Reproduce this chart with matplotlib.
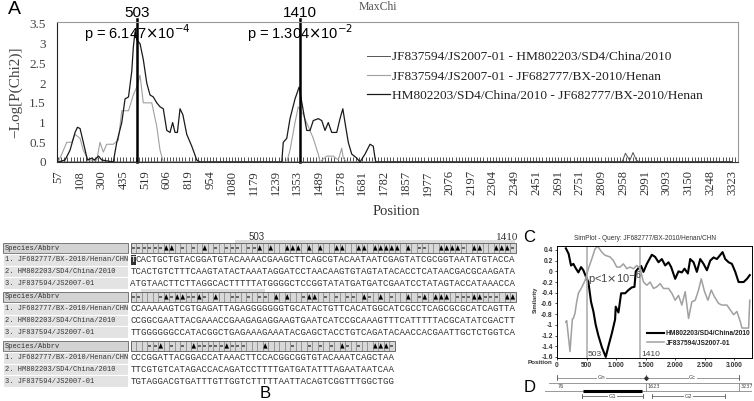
import numpy as np
import matplotlib.pyplot as plt
from matplotlib.patches import Rectangle, Polygon
from matplotlib.ticker import MultipleLocator

W, H = 754, 401
SERIF = 'Liberation Serif'
SANS = 'Liberation Sans'
MONO = 'Liberation Mono'

# ---------------- A: MaxChi ----------------
site_labels = ['57', '108', '300', '435', '519', '606', '819', '954', '1080', '1179', '1239',
               '1353', '1489', '1578', '1681', '1782', '1857', '1977', '2076', '2197', '2304',
               '2349', '2451', '2691', '2751', '2809', '2958', '2991', '3093', '3150', '3248',
               '3323']
pair_labels = ['JF837594/JS2007-01 - HM802203/SD4/China/2010',
               'JF837594/JS2007-01 - JF682777/BX-2010/Henan',
               'HM802203/SD4/China/2010 - JF682777/BX-2010/Henan']

# x in informative-site index units, y = -log P
pair1_x = [0, 25.95, 26.1, 26.3, 26.45, 26.6, 26.75, 31]
pair1_y = [0, 0, 0.22, 0.04, 0.24, 0.05, 0, 0]

pair2_x = [0, 0.17, 0.4, 0.63, 0.78, 1.01, 1.16, 1.39, 1.78, 1.93, 2.08, 2.24, 2.54, 2.77,
           2.93, 3.24, 3.46, 3.62, 3.77, 3.92, 4.31, 4.54, 4.69, 4.84, 10.52, 10.67, 10.9,
           11.05, 11.28, 11.51, 11.74, 11.97, 12.05, 12.36, 12.66, 12.89, 13.05, 13.12, 13.28, 31]
pair2_y = [0, 0.2, 0.5, 0.5, 0.7, 0.6, 0.3, 0.05, 0.05, 0.5, 0.25, 0.45, 0.45, 0.55,
           1.3, 1.3, 1.7, 1.9, 2.2, 1.5, 1.5, 0.9, 0.3, 0, 0, 0.3, 1.0,
           1.4, 1.2, 0.9, 0.6, 0.2, 0, 0.15, 0.15, 0.05, 0.35, 0.1, 0, 0]

pair3_x = [0, 0.32, 0.55, 0.78, 0.89, 1.01, 1.16, 1.35, 1.55, 1.67, 1.86, 2.01, 2.54, 2.70,
           2.93, 3.08, 3.24, 3.39, 3.46, 3.54, 3.62, 3.77, 3.92, 4.08, 4.23, 4.38, 4.54, 4.69,
           4.84, 5.0, 5.15, 5.27, 5.38, 5.49, 5.61, 5.74, 5.92, 6.15, 6.38, 6.53, 10.29, 10.36,
           10.52, 10.67, 10.9, 11.09, 11.28, 11.44, 11.59, 11.74, 11.97, 12.13, 12.28, 12.43,
           12.59, 12.82, 12.97, 13.1, 13.2, 13.35, 13.51, 13.74, 13.89, 14.12, 14.35, 14.5,
           14.58, 14.62, 31]
pair3_y = [0, 0.05, 0.3, 0.75, 0.88, 0.85, 0.5, 0.05, 0.1, 0.05, 0.15, 0.05, 0, 0.5,
           1.0, 1.6, 1.65, 2.3, 2.9, 3.3, 3.1, 3.0, 2.6, 2.0, 1.7, 1.65, 1.5, 1.4,
           1.35, 0.8, 0.75, 1.0, 0.75, 0.75, 1.35, 1.2, 0.7, 0.4, 0.05, 0, 0, 0.5,
           0.6, 1.1, 1.6, 1.9, 1.3, 0.8, 0.8, 1.05, 1.1, 1.05, 0.8, 1.0,
           0.75, 0.75, 1.1, 1.35, 1.0, 0.5, 0.2, 0.1, 0, 0.2, 0.45, 0.4,
           0.1, 0, 0]

breakpoints = ['503', '1410']
breakpoint_idx = [3.62, 11.12]
p_texts = [r'p = 6.147$\times$10$^{-4}$', r'p = 1.304$\times$10$^{-2}$']

# ---------------- B: alignment ----------------
names = ['1. JF682777/BX-2010/Henan/CHN', '2. HM802203/SD4/China/2010', '3. JF837594/JS2007-01']
seq_blocks = [
    ['TCACTGCTGTACGGATGTACAAAACGAAGCTTCAGCGTACAATAATCGAGTATCGCGGTAATATGTACCA',
     'TCACTGTCTTTCAAGTATACTAAATAGGATCCTAACAAGTGTAGTATACACCTCATAACGACGCAAGATA',
     'ATGTAACTTCTTAGGCACTTTTTATGGGGCTCCGGTATATGATGATCGAATCCTATAGTACCATAAACCA'],
    ['CCAAAAAGTCGTGAGATTAGAGGGGGGGTGCATACTGTTCACATGGCATCGCCTCAGCGCGCATCAGTTA',
     'CCGGCGAATTACGAAACCGAAGAGAGGAAGTGAATCATCCGCAAAGTTTCATTTTTACGCATATCGACTT',
     'TTGGGGGGCCATACGGCTGAGAAAGAAATACGAGCTACCTGTCAGATACAACCACGAATTGCTCTGGTCA'],
    ['CCCGGATTACGGACCATAAACTTCCACGGCGGTGTACAAATCAGCTAA',
     'TTCGTGTCATAGACCACAGATCCTTTTGATGATATTTAGAATAATCAA',
     'TGTAGGACGTGATTTGTTGGTCTTTTTAATTACAGTCGGTTTGGCTGG'],
]
# s = square, t = triangle, . = empty site cell
site_marks = [
    'sssssstt.s.s.t.s.sss.sst.t..ttt.t.t..tt..tt.ttttt.t.ss..tttts.tt..ttts',
    'ss...ststtssts.t..ss.s.ss.t.t..stt.s.s.ss.ts.t.s..t.st.ttt.sssttsss.tt',
    '...sst.s.s.tssssstsss...t....s..s.s.s.ts.s..ttts',
]

# ---------------- C: SimPlot ----------------
sim_pos_hm = [150, 196, 237, 277, 316, 362, 407, 446, 490, 531, 576, 616, 655, 700, 760, 825,
              870, 930, 983, 994, 1040, 1085, 1153, 1209, 1266, 1311, 1333, 1379, 1424, 1463,
              1520, 1605, 1661, 1718, 1774, 1831, 1887, 1932, 2000, 2056, 2113, 2158, 2215,
              2254, 2311, 2367, 2424, 2480, 2537, 2593, 2650, 2706, 2802, 2847, 2904, 2960,
              3017, 3073, 3158, 3215, 3262]
sim_hm = [0.43, 0.33, 0.11, 0.14, 0.06, -0.02, 0.08, 0.02, -0.1, -0.2, -0.57, -0.75, -1.0,
          -1.2, -1.42, -1.6, -1.4, -1.15, -0.9, -0.66, -0.77, -0.41, -0.41, -0.35, -0.3, -0.29,
          0.0, 0.06, 0.1, -0.01, 0.14, 0.31, 0.27, 0.17, 0.23, 0.11, 0.17, 0.08, -0.14, 0.0,
          -0.02, 0.05, -0.04, 0.23, 0.17, -0.01, 0.23, 0.14, 0.02, 0.2, 0.26, 0.23, 0.36, 0.23,
          0.17, 0.14, -0.01, -0.2, -0.2, -0.14, -0.07]
sim_pos_js = [147, 164, 220, 260, 277, 305, 333, 362, 418, 475, 531, 588, 644, 689, 757, 814,
              898, 955, 1011, 1068, 1124, 1181, 1237, 1294, 1350, 1407, 1463, 1520, 1576, 1633,
              1689, 1746, 1802, 1887, 1944, 2000, 2056, 2113, 2169, 2226, 2282, 2339, 2395,
              2441, 2497, 2554, 2610, 2667, 2734, 2791, 2876, 2932, 2989, 3045, 3102, 3130,
              3186, 3243, 3262]
sim_js = [-0.95, -0.92, -1.5, -0.89, -0.88, -0.78, -0.57, -0.41, -0.3, -0.17, 0.05, 0.23, 0.42,
          0.47, 0.36, 0.3, 0.27, 0.2, 0.08, 0.08, 0.14, 0.05, 0.08, 0.05, 0.11, 0.05, -0.2,
          -0.26, -0.2, -0.32, -0.29, -0.23, -0.32, -0.32, -0.41, -0.54, -0.45, -0.63, -0.38,
          -0.88, -0.57, -0.54, -0.35, -0.14, -0.38, -0.54, -0.35, -0.48, -0.6, -0.63, -0.63,
          -0.72, -0.81, -0.75, -0.94, -1.06, -1.06, -1.06, -0.54]
sim_labels = ['HM802203/SD4/China/2010', 'JF837594/JS2007-01']
sim_breaks = [503, 1410]

# ---------------- D: genome map (nt) ----------------
gn_span = (76, 1623)
gc_span = (1623, 3237)
recomb_span = (520, 1550)
g1_span = (510, 1565)
g2_span = (1730, 2990)


def fig_rect(left, top, right, bottom):
    return [left / W, 1 - bottom / H, (right - left) / W, (bottom - top) / H]


fig = plt.figure(figsize=(W / 100, H / 100), dpi=100)

# ----- panel A -----
axa = fig.add_axes(fig_rect(57, 22, 738, 162))
axa.plot(pair1_x, pair1_y, color='#555555', lw=0.7, label=pair_labels[0])
axa.plot(pair2_x, pair2_y, color='#a0a0a0', lw=0.8, label=pair_labels[1])
axa.plot(pair3_x, pair3_y, color='#1a1a1a', lw=0.9, label=pair_labels[2])
for bx in breakpoint_idx:
    axa.axvline(bx, ymin=0, ymax=1.02, color='black', lw=1.8, clip_on=False)
axa.set_xlim(-0.05, 31.28)
axa.set_ylim(0, 3.55)
axa.set_xticks(range(len(site_labels)))
axa.set_xticklabels(site_labels, rotation=90, fontfamily=SERIF, fontsize=9, color='#333333')
axa.xaxis.set_minor_locator(MultipleLocator(1 / 7))
axa.tick_params(axis='x', which='both', direction='in', length=3.5, width=0.6, color='#333333', pad=6)
axa.set_yticks([0, 0.5, 1, 1.5, 2, 2.5, 3, 3.5])
axa.set_yticklabels(['0', '0.5', '1', '1.5', '2', '2.5', '3', '3.5'], fontfamily=SERIF,
                    fontsize=9.5, color='#444444')
axa.tick_params(axis='y', length=0, pad=8)
axa.set_ylabel('−Log[P(Chi2)]', fontfamily=SERIF, fontsize=11, color='#444444')
axa.yaxis.set_label_coords(-0.051, 0.5)
axa.set_xlabel('Position', fontfamily=SERIF, fontsize=10.5, color='#333333')
axa.xaxis.set_label_coords(0.498, -0.31)
axa.spines['left'].set_color('#222222')
axa.spines['bottom'].set_color('#333333')
for s in ['top', 'right']:
    axa.spines[s].set_color('#999999')
axa.legend(loc='upper left', bbox_to_anchor=(367 / W, 1 - 51 / H), bbox_transform=fig.transFigure,
           frameon=False, prop={'family': SERIF, 'size': 9.6}, handlelength=1.75,
           handletextpad=0.15, labelspacing=0.52, borderpad=0, borderaxespad=0, labelcolor='#222222')

# ----- panel C -----
axc = fig.add_axes(fig_rect(557, 246, 752, 358))
axc.plot(sim_pos_hm, sim_hm, color='black', lw=1.5, label=sim_labels[0])
axc.plot(sim_pos_js, sim_js, color='#a0a0a0', lw=1.1, label=sim_labels[1])
for b in sim_breaks:
    axc.axvline(b, color='#aaaaaa', lw=1.1)
axc.set_xlim(0, 3300)
axc.set_ylim(-1.62, 0.474)
axc.set_xticks([0, 500, 1000, 1500, 2000, 2500, 3000])
axc.set_xticklabels(['0', '500', '1.000', '1.500', '2.000', '2.500', '3.000'],
                    fontfamily=SANS, fontsize=4.8, fontweight='bold', color='#333333')
axc.set_yticks([0.4, 0.2, 0, -0.2, -0.4, -0.6, -0.8, -1, -1.2, -1.4, -1.6])
axc.set_yticklabels(['0.4', '0.2', '0', '-0.2', '-0.4', '-0.6', '-0.8', '-1', '-1.2', '-1.4', '-1.6'],
                    fontfamily=SANS, fontsize=4.8, fontweight='bold', color='#333333')
axc.tick_params(length=1.5, width=0.5, pad=1.5)
for s in axc.spines.values():
    s.set_linewidth(0.7)
axc.text(530, -0.14, r'p<1$\times$10$^{-6}$', fontfamily=SANS, fontsize=8, color='#444444',
         va='center', ha='left')
axc.text(sim_breaks[0] + 20, -1.56, '503', fontfamily=SANS, fontsize=6, color='#444444', va='center')
axc.text(sim_breaks[1] + 20, -1.56, '1410', fontfamily=SANS, fontsize=6, color='#444444', va='center')
axc.legend(loc='lower right', bbox_to_anchor=(1.0, 0.09), frameon=False,
           prop={'family': SANS, 'size': 4.8, 'weight': 'bold'}, handlelength=2.6,
           handletextpad=0.3, labelspacing=0.35, borderpad=0, borderaxespad=0.2,
           labelcolor='#222222')

# ----- panel D -----
axd = fig.add_axes(fig_rect(545, 373, 752, 401))
axd.set_xlim(76 - 12 / 0.05757, 76 + 195 / 0.05757)
axd.set_ylim(4, 0)
axd.axis('off')
dgray = '#888888'
axd.plot([gn_span[0], gc_span[1]], [0.7, 0.7], color=dgray, lw=0.6)
for xv in [gn_span[0], gn_span[1], gc_span[1]]:
    axd.plot([xv, xv], [0.35, 1.05], color='#555555', lw=0.6)
axd.plot([gn_span[1]], [0.7], marker='D', ms=1.8, color='#333333')
axd.text(np.mean(gn_span), 0.7, 'Gn', fontsize=4, ha='center', va='center', color='#444444',
         bbox=dict(fc='white', ec='none', pad=0.3))
axd.text(np.mean(gc_span), 0.7, 'Gc', fontsize=4, ha='center', va='center', color='#444444',
         bbox=dict(fc='white', ec='none', pad=0.3))
axd.plot([-60, 3460], [1.43, 1.43], color=dgray, lw=0.6)
axd.plot([-200, 3460], [2.57, 2.57], color=dgray, lw=0.6)
for xv in [gn_span[1], gc_span[1]]:
    axd.plot([xv, xv], [1.43, 2.57], color=dgray, lw=0.6)
axd.text(gn_span[0] + 20, 2.0, str(gn_span[0]), fontsize=3.5, va='center', color='#444444')
axd.text(gc_span[0] + 20, 2.0, str(gc_span[0]), fontsize=3.5, va='center', color='#444444')
axd.text(gc_span[1] + 20, 2.0, str(gc_span[1]), fontsize=3.5, va='center', color='#444444')
axd.plot(recomb_span, [2.57, 2.57], color='black', lw=2.2, solid_capstyle='butt')
for span, lab in [(g1_span, 'G1'), (g2_span, 'G2')]:
    axd.plot(span, [3.3, 3.3], color='#666666', lw=0.6)
    for xv in span:
        axd.plot([xv, xv], [3.0, 3.6], color='#555555', lw=0.6)
    axd.text(np.mean(span), 3.3, lab, fontsize=4, ha='center', va='center', color='#444444',
             bbox=dict(fc='white', ec='none', pad=0.3))

# ----- overlay: panel B and free text -----
ov = fig.add_axes([0, 0, 1, 1], zorder=5)
ov.set_xlim(0, W)
ov.set_ylim(H, 0)
ov.axis('off')

ov.text(8, 9, 'A', fontfamily=SANS, fontsize=14, va='center', ha='left')
ov.text(378, 7, 'MaxChi', fontfamily=SERIF, fontsize=8.5, color='#555555', ha='center', va='center')
bx_pix = [137, 300]
for px, lab, pt in zip(bx_pix, breakpoints, p_texts):
    ov.text(px, 13, lab, fontfamily=SANS, fontsize=11, ha='center', va='center')
    ov.text(px, 33, pt, fontfamily=SANS, fontsize=10.5, ha='center', va='center')

cw = 5.5
seq_x0 = 130.5
nx0, nx1 = 3, 128
row_h = 11.7
band_x = [(235, 280), (141, 124), None]
for b, (rows, marks) in enumerate(zip(seq_blocks, site_marks)):
    yh = 248 + b * 49
    if band_x[b] is not None:
        ov.add_patch(Rectangle((band_x[b][0], yh - 8), band_x[b][1], 2.5, fc='#dddddd', ec='none'))
    ov.add_patch(Rectangle((nx0, yh - 5), nx1 - nx0, 10, fc='#d3d3d3', ec='#666666', lw=0.6))
    ov.text(nx0 + 2, yh, 'Species/Abbrv', fontfamily=MONO, fontsize=5.0, va='center', color='#333333')
    ov.add_patch(Rectangle((seq_x0, yh - 5), len(marks) * cw, 10, fc='#d8d8d8', ec='#555555', lw=0.6))
    ov.vlines([seq_x0 + i * cw for i in range(len(marks))], yh - 5, yh + 5, color='#666666', lw=0.4)
    for i, m in enumerate(marks):
        cx = seq_x0 + (i + 0.5) * cw
        if m == 's':
            ov.add_patch(Rectangle((cx - 1.4, yh - 1.4), 2.8, 2.8, fc='#666666', ec='none'))
        elif m == 't':
            ov.add_patch(Polygon([[cx - 2.3, yh + 2.6], [cx + 2.3, yh + 2.6], [cx, yh - 2.8]],
                                 closed=True, fc='black', ec='none'))
    for r, (name, seq) in enumerate(zip(names, rows)):
        yr = yh + (r + 1) * row_h
        ov.add_patch(Rectangle((nx0, yr - 5.85), nx1 - nx0, 11.7, fc='#e3e3e3', ec='white', lw=0.8))
        ov.text(nx0 + 2, yr, name, fontfamily=MONO, fontsize=5.0, va='center', color='#333333')
        if b == 0 and r == 0:
            ov.add_patch(Rectangle((seq_x0, yr - 5), cw, 10, fc='#333333', ec='none'))
            ov.text(seq_x0, yr, seq[0], fontfamily=MONO, fontsize=6.6, va='center', color='white')
            ov.text(seq_x0 + cw, yr, seq[1:], fontfamily=MONO, fontsize=6.6, va='center', color='#333333')
        else:
            ov.text(seq_x0, yr, seq, fontfamily=MONO, fontsize=6.6, va='center', color='#333333')

ov.text(257, 237, '503', fontfamily=SANS, fontsize=7, ha='center', va='center', color='#333333')
ov.text(507, 237, '1410', fontfamily=SERIF, fontsize=8, ha='center', va='center', color='#333333')
ov.text(265, 394, 'B', fontfamily=SANS, fontsize=12, ha='center', va='center')

ov.text(529, 237, 'C', fontfamily=SANS, fontsize=12, ha='center', va='center')
ov.text(645, 239, 'SimPlot - Query: JF682777/BX-2010/Henan/CHN', fontfamily=SANS, fontsize=4.7,
        ha='center', va='center', color='#333333')
ov.text(535.5, 300, 'Similarity', fontfamily=SANS, fontsize=4.2, fontweight='bold', rotation=90,
        ha='center', va='center', color='#333333')
ov.text(540, 363, 'Position', fontfamily=SANS, fontsize=4.5, fontweight='bold',
        ha='center', va='center', color='#333333')
ov.text(530, 387, 'D', fontfamily=SANS, fontsize=12, ha='center', va='center')

fig.savefig('out.png', dpi=100)
